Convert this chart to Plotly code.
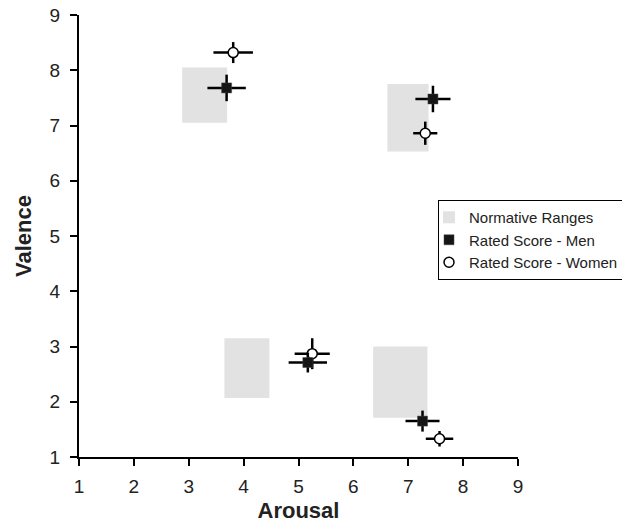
import plotly.graph_objects as go

# Normative ranges (rectangles): arousal low/high, valence low/high
range_arousal_lo = [2.88, 6.62, 3.65, 6.36]
range_arousal_hi = [3.70, 7.37, 4.47, 7.35]
range_valence_lo = [7.05, 6.53, 2.07, 1.71]
range_valence_hi = [8.05, 7.75, 3.15, 3.00]

# Rated scores - Men
men_arousal = [3.69, 7.45, 5.17, 7.26]
men_valence = [7.68, 7.48, 2.71, 1.65]
men_arousal_err = [0.35, 0.32, 0.35, 0.31]
men_valence_err = [0.24, 0.24, 0.18, 0.19]

# Rated scores - Women
women_arousal = [3.81, 7.31, 5.25, 7.57]
women_valence = [8.32, 6.86, 2.87, 1.33]
women_arousal_err = [0.36, 0.22, 0.32, 0.25]
women_valence_err = [0.19, 0.21, 0.28, 0.14]

ticks = [1, 2, 3, 4, 5, 6, 7, 8, 9]
tick_labels = ["1", "2", "3", "4", "5", "6", "7", "8", "9"]

FONT = "Liberation Sans, Arial, Helvetica, sans-serif"

fig = go.Figure()

fig.add_trace(go.Bar(
    x=[(a + b) / 2 for a, b in zip(range_arousal_lo, range_arousal_hi)],
    width=[b - a for a, b in zip(range_arousal_lo, range_arousal_hi)],
    base=range_valence_lo,
    y=[h - l for l, h in zip(range_valence_lo, range_valence_hi)],
    marker=dict(color="#e2e2e2", line=dict(width=0)),
    name="Normative Ranges",
    legendrank=1,
    hoverinfo="skip",
))

fig.add_trace(go.Scatter(
    x=women_arousal, y=women_valence, mode="markers",
    marker=dict(symbol="circle", size=10, color="white",
                line=dict(color="black", width=1.5)),
    error_x=dict(type="data", array=women_arousal_err, color="black",
                 thickness=2.5, width=0),
    error_y=dict(type="data", array=women_valence_err, color="black",
                 thickness=2.5, width=0),
    name="Rated Score - Women",
    legendrank=3,
))

fig.add_trace(go.Scatter(
    x=men_arousal, y=men_valence, mode="markers",
    marker=dict(symbol="square", size=10, color="#151515",
                line=dict(color="#444", width=0.5)),
    error_x=dict(type="data", array=men_arousal_err, color="black",
                 thickness=2.5, width=0),
    error_y=dict(type="data", array=men_valence_err, color="black",
                 thickness=2.5, width=0),
    name="Rated Score - Men",
    legendrank=2,
))

axis_common = dict(
    range=[1, 9],
    tickvals=ticks,
    ticktext=tick_labels,
    showgrid=False,
    zeroline=False,
    showline=True,
    linecolor="black",
    linewidth=2,
    ticks="outside",
    ticklen=7,
    tickwidth=2,
    tickcolor="black",
    tickfont=dict(family=FONT, size=19, color="#222"),
    ticklabeloverflow="allow",
    fixedrange=True,
)

fig.update_layout(
    width=622, height=523,
    margin=dict(l=79, r=104, t=15, b=66, autoexpand=False),
    paper_bgcolor="white",
    plot_bgcolor="white",
    barmode="overlay",
    showlegend=True,
    legend=dict(
        x=0.8178, y=0.5814, xanchor="left", yanchor="top",
        bgcolor="white", bordercolor="black", borderwidth=1,
        font=dict(family=FONT, size=15, color="#222"),
        traceorder="normal",
        itemwidth=30,
        indentation=-10,
    ),
    xaxis=dict(axis_common, title=dict(text="<b>Arousal</b>",
               font=dict(family=FONT, size=22, color="#222"), standoff=8),
               ticklabelstandoff=4),
    yaxis=dict(axis_common, title=dict(text="<b>Valence</b>",
               font=dict(family=FONT, size=22, color="#222"), standoff=12),
               ticklabelstandoff=6),
)

# remove the default 8px page margin so the figure fills the window exactly
fig.write_html("out.html",
               config={"displayModeBar": False},
               post_script="document.body.style.margin='0';"
                           "document.body.style.overflow='hidden';")
